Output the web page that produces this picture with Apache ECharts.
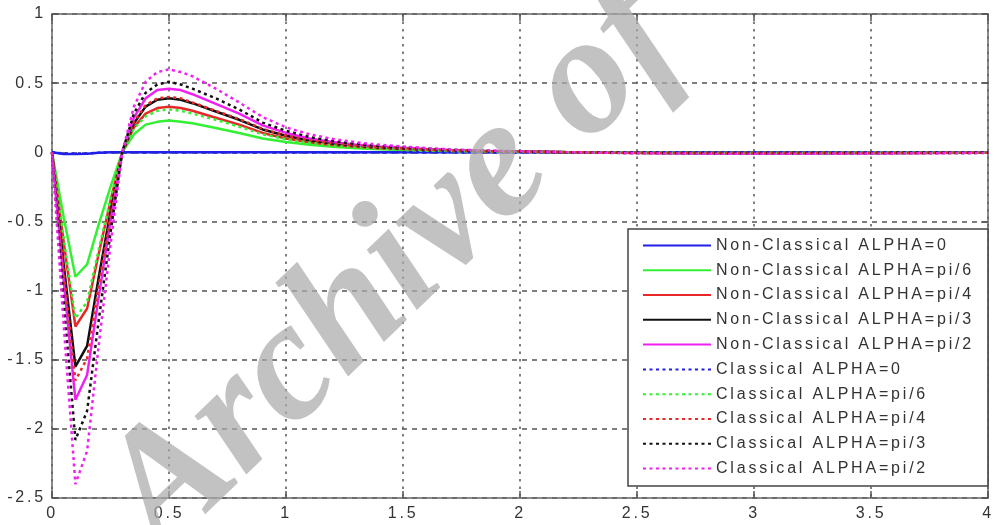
<!DOCTYPE html>
<html>
<head>
<meta charset="utf-8">
<script src="https://cdn.jsdelivr.net/npm/echarts@6/dist/echarts.min.js"></script>
<style>
html,body{margin:0;padding:0;background:#fff;}
#chart{width:997px;height:525px;}
</style>
</head>
<body>
<div id="chart"></div>
<script>
// ---- data ----
const xValues = [0, 0.05, 0.1, 0.15, 0.2, 0.25, 0.3, 0.35, 0.4, 0.45, 0.5, 0.55, 0.6, 0.7, 0.8, 0.9, 1.0,
  1.1, 1.2, 1.3, 1.4, 1.5, 1.6, 1.7, 1.8, 1.9, 2.0, 2.2, 2.4, 2.6, 2.8, 3.0, 3.2, 3.4, 3.6, 3.8, 4.0];

const seriesNames = [
  'Non-Classical ALPHA=0', 'Non-Classical ALPHA=pi/6', 'Non-Classical ALPHA=pi/4',
  'Non-Classical ALPHA=pi/3', 'Non-Classical ALPHA=pi/2',
  'Classical ALPHA=0', 'Classical ALPHA=pi/6', 'Classical ALPHA=pi/4',
  'Classical ALPHA=pi/3', 'Classical ALPHA=pi/2'
];

const ncAlpha0 = [0, -0.012, -0.012, -0.01, -0.004, 0, 0, 0, 0, 0, 0, 0, 0, 0, 0, 0, 0,
  0, 0, 0, 0, 0, 0, 0, 0, 0, 0, 0, 0, 0, 0, 0, 0, 0, 0, 0, 0];
const ncAlphaPi6 = [0, -0.47, -0.90, -0.81, -0.52, -0.25, 0.0, 0.13, 0.20, 0.22, 0.23, 0.22, 0.21, 0.175, 0.14, 0.10, 0.075,
  0.055, 0.04, 0.03, 0.022, 0.017, 0.012, 0.009, 0.006, 0.004, 0.003, 0.001, -0.002, -0.003, -0.004, -0.004, -0.004, -0.003, -0.003, -0.002, -0.002];
const ncAlphaPi4 = [0, -0.65, -1.26, -1.13, -0.73, -0.35, 0.0, 0.18, 0.28, 0.32, 0.33, 0.32, 0.30, 0.25, 0.20, 0.14, 0.10,
  0.073, 0.053, 0.04, 0.03, 0.023, 0.017, 0.012, 0.008, 0.006, 0.004, 0.001, -0.002, -0.004, -0.005, -0.005, -0.005, -0.004, -0.004, -0.003, -0.003];
const ncAlphaPi3 = [0, -0.81, -1.55, -1.40, -0.90, -0.43, 0.0, 0.21, 0.33, 0.38, 0.39, 0.38, 0.355, 0.295, 0.235, 0.165, 0.12,
  0.086, 0.062, 0.047, 0.035, 0.027, 0.02, 0.014, 0.01, 0.007, 0.005, 0.001, -0.003, -0.005, -0.006, -0.006, -0.006, -0.005, -0.005, -0.004, -0.003];
const ncAlphaPi2 = [0, -0.93, -1.79, -1.61, -1.04, -0.50, 0.0, 0.25, 0.39, 0.45, 0.46, 0.45, 0.42, 0.35, 0.28, 0.195, 0.14,
  0.10, 0.074, 0.055, 0.041, 0.032, 0.023, 0.016, 0.012, 0.008, 0.006, 0.001, -0.004, -0.006, -0.008, -0.008, -0.008, -0.007, -0.006, -0.005, -0.004];

const clAlpha0 = [0, -0.008, -0.01, -0.008, -0.003, 0, 0, 0, 0, 0, 0, 0, 0, 0, 0, 0, 0,
  0, 0, 0, 0, 0, 0, 0, 0, 0, 0, 0, 0, 0, 0, 0, 0, 0, 0, 0, 0];
const clAlphaPi6 = [0, -0.62, -1.20, -1.08, -0.70, -0.34, 0.0, 0.17, 0.26, 0.30, 0.31, 0.30, 0.28, 0.235, 0.185, 0.13, 0.095,
  0.07, 0.05, 0.037, 0.028, 0.022, 0.016, 0.011, 0.008, 0.006, 0.004, 0.001, -0.002, -0.004, -0.005, -0.005, -0.005, -0.004, -0.004, -0.003, -0.003];
const clAlphaPi4 = [0, -0.86, -1.65, -1.49, -0.96, -0.46, 0.0, 0.22, 0.34, 0.39, 0.40, 0.39, 0.36, 0.30, 0.24, 0.17, 0.12,
  0.088, 0.064, 0.048, 0.036, 0.028, 0.02, 0.014, 0.01, 0.007, 0.005, 0.001, -0.003, -0.005, -0.006, -0.006, -0.006, -0.005, -0.005, -0.004, -0.003];
const clAlphaPi3 = [0, -1.08, -2.08, -1.87, -1.21, -0.58, 0.0, 0.28, 0.43, 0.49, 0.51, 0.49, 0.46, 0.39, 0.31, 0.215, 0.155,
  0.11, 0.08, 0.06, 0.045, 0.035, 0.026, 0.018, 0.013, 0.009, 0.006, 0.001, -0.004, -0.006, -0.008, -0.008, -0.008, -0.007, -0.006, -0.005, -0.004];
const clAlphaPi2 = [0, -1.25, -2.40, -2.16, -1.39, -0.67, 0.0, 0.33, 0.51, 0.58, 0.60, 0.58, 0.55, 0.46, 0.36, 0.255, 0.18,
  0.13, 0.096, 0.072, 0.054, 0.042, 0.03, 0.021, 0.015, 0.011, 0.007, 0.001, -0.005, -0.008, -0.01, -0.01, -0.01, -0.009, -0.008, -0.006, -0.005];

const seriesValues = [ncAlpha0, ncAlphaPi6, ncAlphaPi4, ncAlphaPi3, ncAlphaPi2,
  clAlpha0, clAlphaPi6, clAlphaPi4, clAlphaPi3, clAlphaPi2];
const seriesColors = ['#2020e8', '#33f033', '#e82828', '#101010', '#f020f0',
  '#2020e8', '#33f033', '#e82828', '#101010', '#f020f0'];
const seriesDotted = [false, false, false, false, false, true, true, true, true, true];

const watermarkText = 'Archive of';

// MATLAB-like wide letter spacing for sans text
(function () {
  const P = CanvasRenderingContext2D.prototype;
  if (!('letterSpacing' in P)) return;
  const sp = f => /Liberation Sans/.test(f) ? '2.8px' : '0px';
  const fT = P.fillText, sT = P.strokeText, mT = P.measureText;
  P.fillText = function () { this.letterSpacing = sp(this.font); return fT.apply(this, arguments); };
  P.strokeText = function () { this.letterSpacing = sp(this.font); return sT.apply(this, arguments); };
  P.measureText = function () { this.letterSpacing = sp(this.font); return mT.apply(this, arguments); };
})();

const chart = echarts.init(document.getElementById('chart'), null, { renderer: 'canvas' });

const labelFont = { fontFamily: 'Liberation Sans', fontSize: 16, color: '#333' };

const series = seriesNames.map((name, k) => ({
  name: name,
  type: 'line',
  xAxisIndex: 0,
  yAxisIndex: 0,
  data: xValues.map((x, i) => [x, seriesValues[k][i]]),
  symbol: 'none',
  showSymbol: false,
  animation: false,
  clip: true,
  lineStyle: { color: seriesColors[k], width: 2.5, type: seriesDotted[k] ? [3, 3.5] : 'solid' },
  itemStyle: { color: seriesColors[k] },
  z: 3
}));

const axisCommon = {
  axisLine: { show: true, onZero: false, lineStyle: { color: '#666', width: 1.5 } },
  axisTick: { show: true, inside: true, length: 7, lineStyle: { color: '#555', width: 1.5 } }
};

chart.setOption({
  animation: false,
  backgroundColor: '#fff',
  grid: { left: 52, right: 1, top: 14, bottom: 27, containLabel: false },
  xAxis: [Object.assign({
    type: 'value', min: 0, max: 4, interval: 0.5, position: 'bottom',
    axisLabel: Object.assign({ margin: 6 }, labelFont),
    splitLine: { show: true, lineStyle: { color: '#555', width: 1.5, type: [2.5, 5] } }
  }, axisCommon), Object.assign({
    type: 'value', min: 0, max: 4, interval: 0.5, position: 'top',
    axisLabel: { show: false },
    splitLine: { show: false }
  }, axisCommon)],
  yAxis: [Object.assign({
    type: 'value', min: -2.5, max: 1, interval: 0.5, position: 'left',
    axisLabel: Object.assign({ margin: 6 }, labelFont),
    splitLine: { show: true, lineStyle: { color: '#555', width: 1.5, type: [5, 5] } }
  }, axisCommon), Object.assign({
    type: 'value', min: -2.5, max: 1, interval: 0.5, position: 'right',
    axisLabel: { show: false },
    splitLine: { show: false }
  }, axisCommon)],
  legend: {
    show: true,
    orient: 'vertical',
    left: 628,
    top: 229,
    data: seriesNames,
    itemWidth: 68,
    itemHeight: 14,
    itemGap: 6,
    padding: [7, 14, 8, 14],
    backgroundColor: '#fff',
    borderColor: '#444',
    borderWidth: 1.5,
    borderRadius: 0,
    selectedMode: false,
    itemStyle: { opacity: 0, borderWidth: 0 },
    textStyle: { fontFamily: 'Liberation Sans', fontSize: 16, color: '#333', lineHeight: 16 },
    z: 10
  },
  graphic: [{
    type: 'text',
    x: 395,
    y: 270,
    rotation: 44 * Math.PI / 180,
    z: 100,
    silent: true,
    style: {
      text: watermarkText,
      font: 'italic bold 170px "Liberation Serif"',
      fill: 'rgba(170,170,170,0.72)',
      align: 'center',
      verticalAlign: 'middle'
    }
  }],
  series: series
});
</script>
</body>
</html>
